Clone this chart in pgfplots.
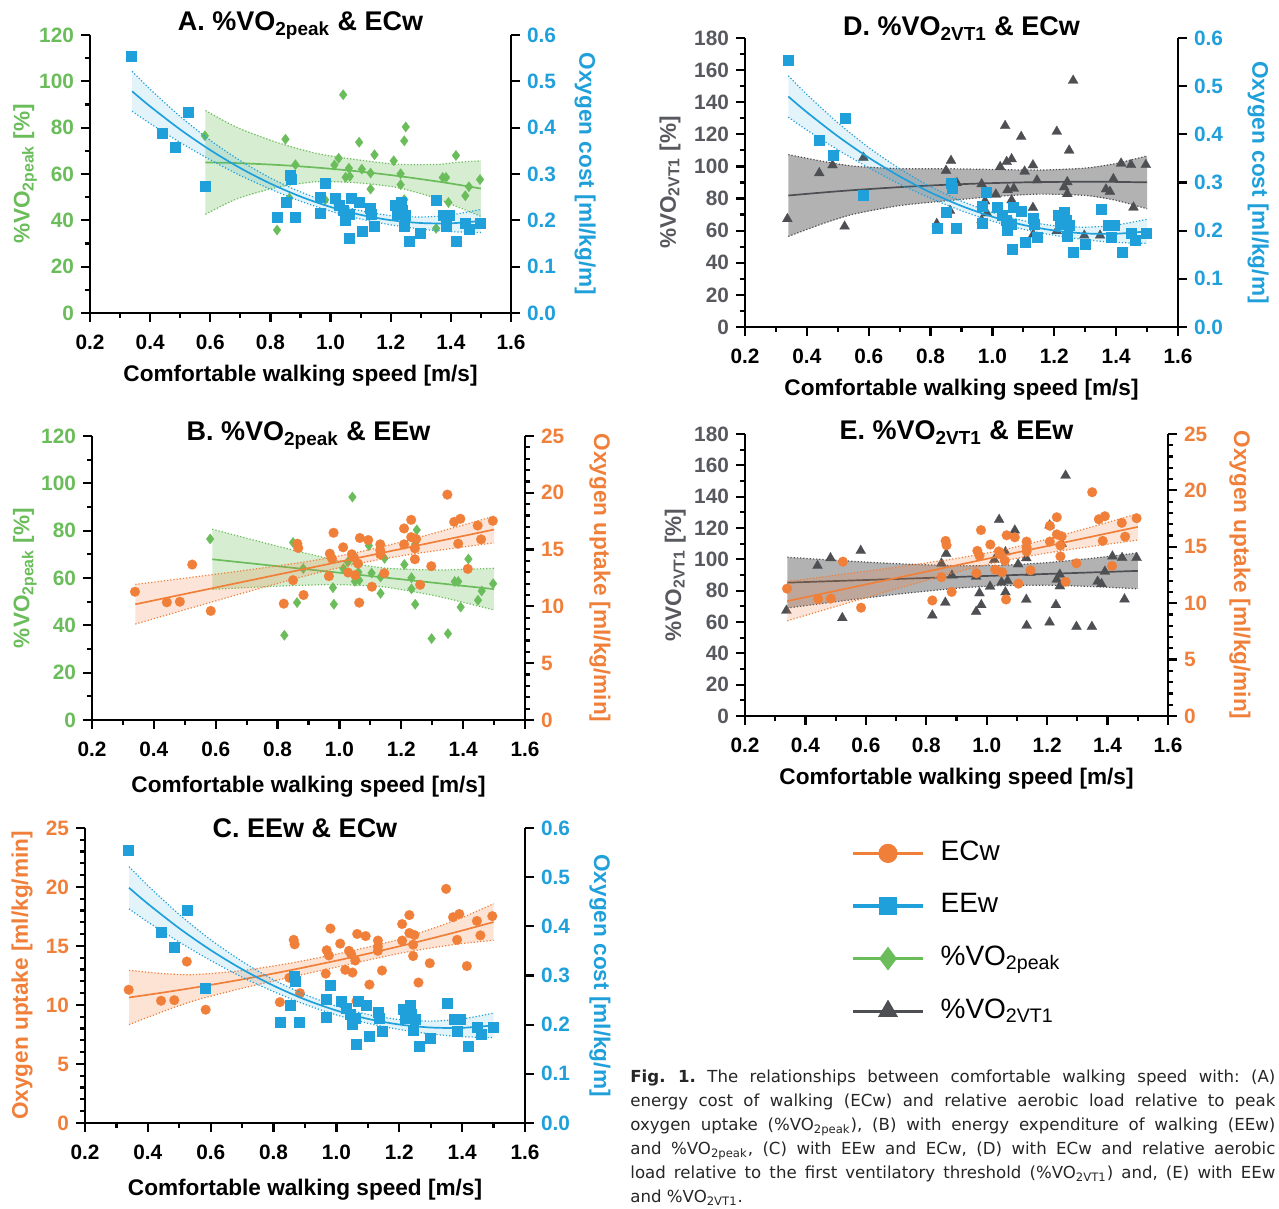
\documentclass[border=0pt]{standalone}
\usepackage{pgfplots}
\pgfplotsset{compat=1.18}
\usepackage{pgfplotstable}
\usepackage{fontspec}
\setmainfont{Liberation Sans}
\newfontfamily\capfont{DejaVu Sans}

\definecolor{cgreen}{RGB}{106,189,90}
\definecolor{cblue}{RGB}{31,160,219}
\definecolor{corange}{RGB}{240,127,58}
\definecolor{cgray}{RGB}{77,79,83}
\definecolor{cgraytxt}{RGB}{88,89,94}

% ---------------- data ----------------
\pgfplotstableread{
x y
0.338 0.555
0.441 0.389
0.484 0.357
0.525 0.433
0.582 0.274
0.822 0.206
0.851 0.239
0.866 0.298
0.868 0.288
0.881 0.206
0.966 0.251
0.966 0.216
0.981 0.280
1.014 0.248
1.030 0.233
1.043 0.222
1.049 0.201
1.060 0.213
1.063 0.161
1.068 0.248
1.094 0.240
1.104 0.176
1.133 0.226
1.136 0.213
1.145 0.187
1.213 0.232
1.220 0.213
1.233 0.239
1.239 0.221
1.243 0.188
1.249 0.211
1.262 0.156
1.298 0.173
1.351 0.244
1.373 0.211
1.384 0.187
1.393 0.211
1.418 0.156
1.449 0.195
1.461 0.181
1.498 0.195
}\ecw

\pgfplotstableread{
x y
0.339 11.29
0.442 10.36
0.484 10.41
0.524 13.68
0.584 9.60
0.820 10.24
0.850 12.31
0.864 15.52
0.867 15.14
0.884 11.00
0.966 12.66
0.969 14.64
0.976 14.20
0.981 16.48
1.012 15.20
1.028 12.98
1.040 14.59
1.047 14.30
1.051 12.75
1.060 13.77
1.064 10.33
1.066 16.02
1.093 15.84
1.105 11.73
1.132 15.46
1.132 14.94
1.132 14.59
1.145 12.92
1.209 16.86
1.209 15.46
1.232 17.62
1.232 16.10
1.244 15.11
1.244 14.15
1.248 15.93
1.261 11.90
1.297 13.54
1.349 19.84
1.371 17.44
1.384 15.52
1.391 17.71
1.415 13.30
1.447 17.12
1.458 15.90
1.496 17.53
}\eew

\pgfplotstableread{
x y
0.582 76.5
0.822 35.8
0.850 75.0
0.863 49.6
0.883 64.0
0.979 55.9
0.982 48.9
1.013 63.9
1.027 66.8
1.042 94.2
1.050 58.6
1.061 62.5
1.064 59.0
1.095 73.7
1.104 62.1
1.133 60.4
1.133 53.5
1.146 68.3
1.210 65.7
1.233 60.1
1.233 55.4
1.245 74.3
1.245 48.9
1.250 80.3
1.298 34.4
1.351 36.5
1.373 58.5
1.384 58.5
1.392 47.7
1.417 68.0
1.448 50.6
1.460 54.5
1.497 57.6
}\peak

\pgfplotstableread{
x y
0.337 67.3
0.440 95.9
0.483 100.8
0.522 62.6
0.583 105.5
0.820 64.3
0.850 97.4
0.863 72.4
0.866 103.6
0.885 89.7
0.965 89.0
0.965 66.6
0.976 78.4
0.982 70.9
1.011 82.6
1.025 99.7
1.041 125.3
1.046 102.9
1.049 85.4
1.062 104.6
1.062 79.0
1.069 86.3
1.093 118.5
1.104 96.9
1.131 74.3
1.131 100.8
1.132 57.7
1.144 91.4
1.208 121.7
1.208 59.8
1.229 70.9
1.232 87.1
1.242 90.3
1.242 82.9
1.248 110.0
1.261 153.5
1.297 57.0
1.348 57.0
1.367 85.8
1.380 84.3
1.391 92.2
1.416 101.9
1.448 101.0
1.456 74.5
1.496 101.0
}\vt

% ---------------- fitted curves with 95% bands ----------------
\pgfplotstableread{
x fit up lo
0.34 0.4785 0.5215 0.4355
0.4 0.4459 0.4829 0.4089
0.5 0.3960 0.4240 0.3680
0.6 0.3516 0.3726 0.3306
0.7 0.3127 0.3287 0.2967
0.8 0.2793 0.2913 0.2673
0.9 0.2513 0.2613 0.2413
1.0 0.2288 0.2378 0.2198
1.1 0.2118 0.2208 0.2028
1.2 0.2003 0.2103 0.1903
1.3 0.1942 0.2072 0.1812
1.4 0.1936 0.2116 0.1756
1.5 0.1986 0.2236 0.1736
}\ecwfit
\pgfplotstableread{
x y
0.34 0.5215
0.4 0.4829
0.5 0.4240
0.6 0.3726
0.7 0.3287
0.8 0.2913
0.9 0.2613
1.0 0.2378
1.1 0.2208
1.2 0.2103
1.3 0.2072
1.4 0.2116
1.5 0.2236
1.5 0.1736
1.4 0.1756
1.3 0.1812
1.2 0.1903
1.1 0.2028
1.0 0.2198
0.9 0.2413
0.8 0.2673
0.7 0.2967
0.6 0.3306
0.5 0.3680
0.4 0.4089
0.34 0.4355
}\ecwband

\pgfplotstableread{
x fit up lo
0.584 65.0 87.4 42.6
0.689 64.69 80.09 49.29
0.822 63.92 73.62 54.22
0.954 62.76 68.86 56.66
1.087 61.19 66.19 56.19
1.22 59.2 64.2 54.2
1.352 56.83 64.13 49.53
1.418 55.5 65.0 46.0
1.5 53.7 65.7 41.7
}\peakquad
\pgfplotstableread{
x y
0.584 87.4
0.689 80.09
0.822 73.62
0.954 68.86
1.087 66.19
1.22 64.2
1.352 64.13
1.418 65.0
1.5 65.7
1.5 41.7
1.418 46.0
1.352 49.53
1.22 54.2
1.087 56.19
0.954 56.66
0.822 54.22
0.689 49.29
0.584 42.6
}\peakquadband

\pgfplotstableread{
x fit up lo
0.589 67.9 80.6 55.2
0.7 66.37 76.8 55.94
0.8 64.98 73.43 56.53
0.9 63.6 70.2 57.0
1.0 62.22 67.26 57.18
1.14 60.28 64.28 56.28
1.3 58.07 63.38 52.76
1.4 56.68 63.63 49.73
1.5 55.3 64.13 46.47
}\peaklin
\pgfplotstableread{
x y
0.589 80.6
0.7 76.8
0.8 73.43
0.9 70.2
1.0 67.26
1.14 64.28
1.3 63.38
1.4 63.63
1.5 64.13
1.5 46.47
1.4 49.73
1.3 52.76
1.14 56.28
1.0 57.18
0.9 57.0
0.8 56.53
0.7 55.94
0.589 55.2
}\peaklinband

\pgfplotstableread{
x fit up lo
0.34 10.186 11.933 8.439
0.5 11.093 12.483 9.703
0.7 12.227 13.192 11.262
0.9 13.361 13.973 12.749
1.05 14.212 14.712 13.712
1.2 15.062 15.674 14.45
1.35 15.913 16.779 15.047
1.5 16.763 17.936 15.59
}\eewlin
\pgfplotstableread{
x y
0.34 11.933
0.5 12.483
0.7 13.192
0.9 13.973
1.05 14.712
1.2 15.674
1.35 16.779
1.5 17.936
1.5 15.59
1.35 15.047
1.2 14.45
1.05 13.712
0.9 12.749
0.7 11.262
0.5 9.703
0.34 8.439
}\eewlinband

\pgfplotstableread{
x fit up lo
0.34 10.637 12.94 8.34
0.45 11.062 12.66 9.46
0.55 11.482 12.58 10.38
0.7 12.17 12.92 11.42
0.85 12.928 13.53 12.33
1.0 13.757 14.31 13.21
1.1 14.349 14.9 13.8
1.2 14.971 15.57 14.37
1.3 15.626 16.43 14.83
1.4 16.312 17.41 15.21
1.5 17.03 18.58 15.48
}\eewquad
\pgfplotstableread{
x y
0.34 12.94
0.45 12.66
0.55 12.58
0.7 12.92
0.85 13.53
1.0 14.31
1.1 14.9
1.2 15.57
1.3 16.43
1.4 17.41
1.5 18.58
1.5 15.48
1.4 15.21
1.3 14.83
1.2 14.37
1.1 13.8
1.0 13.21
0.85 12.33
0.7 11.42
0.55 10.38
0.45 9.46
0.34 8.34
}\eewquadband

\pgfplotstableread{
x fit up lo
0.34 81.89 107.39 56.39
0.45 83.74 103.24 64.24
0.55 85.23 100.23 70.23
0.7 87.11 98.61 75.61
0.85 88.57 98.57 78.57
1.0 89.62 98.12 81.12
1.15 90.24 97.74 82.74
1.3 90.45 98.95 81.95
1.4 90.36 101.86 78.86
1.5 90.08 106.58 73.58
}\vtquad
\pgfplotstableread{
x y
0.34 107.39
0.45 103.24
0.55 100.23
0.7 98.61
0.85 98.57
1.0 98.12
1.15 97.74
1.3 98.95
1.4 101.86
1.5 106.58
1.5 73.58
1.4 78.86
1.3 81.95
1.15 82.74
1.0 81.12
0.85 78.57
0.7 75.61
0.55 70.23
0.45 64.24
0.34 56.39
}\vtquadband

\pgfplotstableread{
x fit up lo
0.34 85.11 101.35 68.87
0.5 86.15 99.38 72.92
0.7 87.44 97.24 77.64
0.9 88.74 95.96 81.52
1.05 89.71 96.21 83.21
1.2 90.68 97.9 83.46
1.35 91.65 100.69 82.61
1.5 92.62 104.08 81.16
}\vtlin
\pgfplotstableread{
x y
0.34 101.35
0.5 99.38
0.7 97.24
0.9 95.96
1.05 96.21
1.2 97.9
1.35 100.69
1.5 104.08
1.5 81.16
1.35 82.61
1.2 83.46
1.05 83.21
0.9 81.52
0.7 77.64
0.5 72.92
0.34 68.87
}\vtlinband

% ---------------- styles ----------------
\pgfplotsset{
  mybase/.style={
    scale only axis, enlargelimits=false, xmin=0.2, xmax=1.6,
    tick align=outside,
    axis line style={line width=1.3pt, black},
    every tick/.style={black, line width=1.1pt},
    major tick length=4.5pt, minor tick length=2.6pt,
    tick label style={font=\bfseries\fontsize{10.4}{12}\selectfont},
    /pgf/number format/assume math mode=true,
    label style={font=\bfseries\fontsize{11.3}{13}\selectfont},
    title style={font=\bfseries\fontsize{13.5}{15}\selectfont, at={(0.5,1)}, anchor=base},
  },
  leftax/.style={mybase, axis x line*=bottom, axis y line*=left,
    xtick={0.2,0.4,0.6,0.8,1.0,1.2,1.4,1.6}, minor x tick num=1,
    xticklabel={\bfseries\pgfmathprintnumber[fixed,fixed zerofill,precision=1]{\tick}},
    xticklabel style={yshift=-3pt},
    yticklabel={\bfseries\pgfmathprintnumber{\tick}},
    xlabel={Comfortable walking speed [m/s]},
  },
  rightax/.style={mybase, axis x line=none, axis y line*=right},
  ecwright/.style={rightax, ymin=0, ymax=0.6, ytick={0,0.1,0.2,0.3,0.4,0.5,0.6},
    yticklabel={\bfseries\pgfmathprintnumber[fixed,fixed zerofill,precision=1]{\tick}},
    yticklabel style={text=cblue},
    ylabel={Oxygen cost [ml/kg/m]}},
  eewright/.style={rightax, ymin=0, ymax=25, ytick={0,5,10,15,20,25}, minor y tick num=4,
    yticklabel={\bfseries\pgfmathprintnumber{\tick}},
    yticklabel style={text=corange},
    ylabel={Oxygen uptake [ml/kg/min]}},
  peakleft/.style={leftax, ymin=0, ymax=120, ytick={0,20,40,60,80,100,120}, minor y tick num=1,
    yticklabel style={text=cgreen},
    ylabel={\%VO\textsubscript{2peak} [\%]}},
  vtleft/.style={leftax, ymin=0, ymax=180, ytick={0,20,40,60,80,100,120,140,160,180}, minor y tick num=1,
    yticklabel style={text=cgraytxt},
    ylabel={\%VO\textsubscript{2VT1} [\%]}},
  mkblue/.style={only marks, mark=square*, mark size=2.5pt, mark options={fill=cblue, draw=cblue, line width=0.1pt}},
  mkorange/.style={only marks, mark=*, mark size=2.45pt, mark options={fill=corange, draw=corange, line width=0.1pt}},
  mkgreen/.style={only marks, mark=diamond*, mark size=2.6pt, mark options={fill=cgreen, draw=cgreen, line width=0.1pt}},
  mkgray/.style={only marks, mark=triangle*, mark size=2.9pt, mark options={fill=cgray, draw=cgray, line width=0.1pt}},
}

% #1 colour, #2 fit table, #3 band polygon table, #4 fill colour, #5 opacity
\newcommand{\fitband}[5]{%
  \addplot[fill=#4, fill opacity=#5, draw=none] table[x=x,y=y]{#3} -- cycle;
  \addplot[#1, densely dotted, line width=0.6pt, smooth] table[x=x,y=up]{#2};
  \addplot[#1, densely dotted, line width=0.6pt, smooth] table[x=x,y=lo]{#2};
  \addplot[#1, line width=0.85pt, smooth] table[x=x,y=fit]{#2};
}

\begin{document}
\begin{tikzpicture}
\useasboundingbox (0,0) rectangle (639.5pt,604.5pt);

% ================= A =================
\begin{axis}[peakleft, at={(45pt,448pt)}, anchor=south west, width=210.5pt, height=139pt,
  ylabel style={text=cgreen, at={(axis description cs:-0.154,0.5)}, anchor=center},
  xlabel style={at={(axis description cs:0.5,0)}, anchor=base, yshift=-34.5pt},
  title={A. \%VO\textsubscript{2peak} \& ECw}, title style={yshift=-4pt}]
\fitband{cgreen}{\peakquad}{\peakquadband}{cgreen}{0.28}
\addplot[mkgreen] table[x=x,y=y]{\peak};
\end{axis}
\begin{axis}[ecwright, at={(45pt,448pt)}, anchor=south west, width=210.5pt, height=139pt,
  ylabel style={text=cblue, at={(axis description cs:1.176,0.5)}, anchor=center, rotate=180}]
\fitband{cblue}{\ecwfit}{\ecwband}{cblue}{0.13}
\addplot[mkblue] table[x=x,y=y]{\ecw};
\end{axis}

% ================= B =================
\begin{axis}[peakleft, at={(46pt,244.5pt)}, anchor=south west, width=216.5pt, height=142pt,
  ylabel style={text=cgreen, at={(axis description cs:-0.155,0.5)}, anchor=center},
  xlabel style={at={(axis description cs:0.5,0)}, anchor=base, yshift=-36.5pt},
  title={B. \%VO\textsubscript{2peak} \& EEw}, title style={yshift=-8.5pt}]
\fitband{cgreen}{\peaklin}{\peaklinband}{cgreen}{0.28}
\addplot[mkgreen] table[x=x,y=y]{\peak};
\end{axis}
\begin{axis}[eewright, at={(46pt,244.5pt)}, anchor=south west, width=216.5pt, height=142pt,
  ylabel style={text=corange, at={(axis description cs:1.173,0.5)}, anchor=center, rotate=180}]
\fitband{corange}{\eewlin}{\eewlinband}{corange}{0.2}
\addplot[mkorange] table[x=x,y=y]{\eew};
\end{axis}

% ================= C =================
\begin{axis}[leftax, at={(42.5pt,43pt)}, anchor=south west, width=220pt, height=147.5pt,
  ymin=0, ymax=25, ytick={0,5,10,15,20,25}, minor y tick num=4,
  yticklabel style={text=corange},
  ylabel={Oxygen uptake [ml/kg/min]},
  ylabel style={text=corange, at={(axis description cs:-0.143,0.5)}, anchor=center},
  xlabel style={at={(axis description cs:0.5,0)}, anchor=base, yshift=-36.5pt},
  title={C. EEw \& ECw}, title style={yshift=-11pt}]
\fitband{corange}{\eewquad}{\eewquadband}{corange}{0.22}
\addplot[mkorange] table[x=x,y=y]{\eew};
\end{axis}
\begin{axis}[ecwright, at={(42.5pt,43pt)}, anchor=south west, width=220pt, height=147.5pt,
  ylabel style={text=cblue, at={(axis description cs:1.17,0.5)}, anchor=center, rotate=180}]
\fitband{cblue}{\ecwfit}{\ecwband}{cblue}{0.13}
\addplot[mkblue] table[x=x,y=y]{\ecw};
\end{axis}

% ================= D =================
\begin{axis}[vtleft, at={(372.5pt,441pt)}, anchor=south west, width=216.5pt, height=144.5pt,
  ylabel style={text=cgraytxt, at={(axis description cs:-0.173,0.5)}, anchor=center},
  xlabel style={at={(axis description cs:0.5,0)}, anchor=base, yshift=-34.5pt},
  title={D. \%VO\textsubscript{2VT1} \& ECw}, title style={yshift=-5pt}]
\fitband{cgray}{\vtquad}{\vtquadband}{black}{0.3}
\addplot[mkgray] table[x=x,y=y]{\vt};
\end{axis}
\begin{axis}[ecwright, at={(372.5pt,441pt)}, anchor=south west, width=216.5pt, height=144.5pt,
  ylabel style={text=cblue, at={(axis description cs:1.185,0.5)}, anchor=center, rotate=180}]
\fitband{cblue}{\ecwfit}{\ecwband}{cblue}{0.13}
\addplot[mkblue] table[x=x,y=y]{\ecw};
\end{axis}

% ================= E =================
\begin{axis}[vtleft, at={(372.5pt,246.5pt)}, anchor=south west, width=211.5pt, height=141pt,
  ylabel style={text=cgraytxt, at={(axis description cs:-0.165,0.5)}, anchor=center},
  xlabel style={at={(axis description cs:0.5,0)}, anchor=base, yshift=-34.5pt},
  title={E. \%VO\textsubscript{2VT1} \& EEw}, title style={yshift=-9pt}]
\fitband{cgray}{\vtlin}{\vtlinband}{black}{0.3}
\addplot[mkgray] table[x=x,y=y]{\vt};
\end{axis}
\begin{axis}[eewright, at={(372.5pt,246.5pt)}, anchor=south west, width=211.5pt, height=141pt,
  ylabel style={text=corange, at={(axis description cs:1.17,0.5)}, anchor=center, rotate=180}]
\fitband{corange}{\eewlin}{\eewlinband}{corange}{0.2}
\addplot[mkorange] table[x=x,y=y]{\eew};
\end{axis}

% ================= legend =================
\begin{axis}[at={(425.5pt,185pt)}, anchor=north west, hide axis, scale only axis,
  width=10pt, height=10pt, xmin=0, xmax=1, ymin=0, ymax=1,
  legend style={at={(0,1)}, anchor=north west, draw=none, fill=none, inner sep=0pt,
    font=\fontsize{14}{16}\selectfont, row sep=12.3pt, column sep=8pt,
    nodes={inner sep=0pt, text height=10.5pt, text depth=3.5pt}},
  legend cell align=left,
  legend image code/.code={\draw[#1, line width=1.6pt] (0pt,0pt) -- (35pt,0pt);
    \draw[#1] plot coordinates {(17.5pt,0pt)};}]
\addlegendimage{corange, mark=*, mark size=4.6pt}
\addlegendentry{ECw}
\addlegendimage{cblue, mark=square*, mark size=4.3pt}
\addlegendentry{EEw}
\addlegendimage{cgreen, mark=diamond*, mark size=5.6pt}
\addlegendentry{\%VO\textsubscript{2peak}}
\addlegendimage{cgray, mark=triangle*, mark size=5.4pt}
\addlegendentry{\%VO\textsubscript{2VT1}}
\end{axis}

% ================= caption =================
\node[anchor=north west, inner sep=0pt, text width=322.5pt, align=justify,
  font=\capfont\fontsize{8.3}{12}\selectfont\frenchspacing, text=black!85] at (315pt,70pt)
{\textbf{Fig. 1.} The relationships between comfortable walking speed with: (A)\linebreak
energy cost of walking (ECw) and relative aerobic load relative to peak\linebreak
oxygen uptake (\%VO\textsubscript{2peak}), (B) with energy expenditure of walking (EEw)\linebreak
and \%VO\textsubscript{2peak}, (C) with EEw and ECw, (D) with ECw and relative aerobic\linebreak
load relative to the first ventilatory threshold (\%VO\textsubscript{2VT1}) and, (E) with EEw\linebreak
and \%VO\textsubscript{2VT1}.};
\end{tikzpicture}
\end{document}
